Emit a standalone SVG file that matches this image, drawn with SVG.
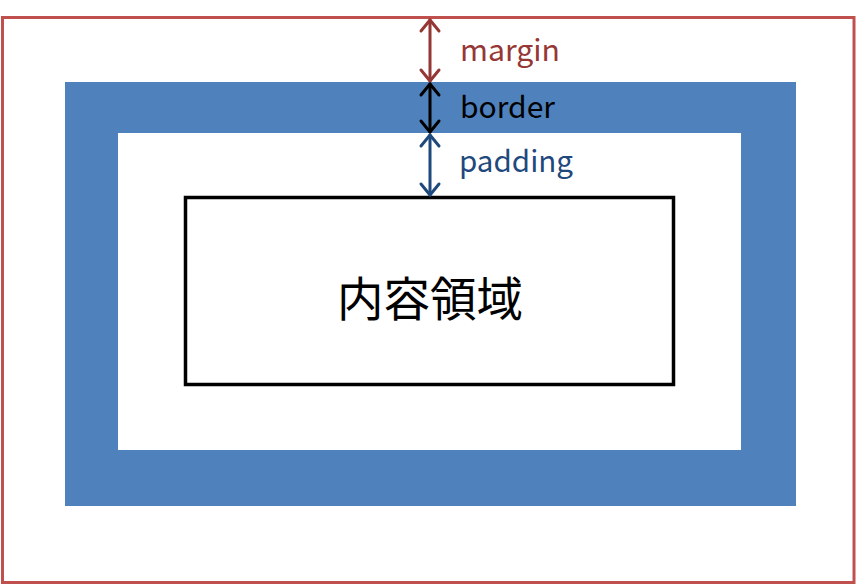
<svg xmlns="http://www.w3.org/2000/svg" width="857" height="585" viewBox="0 0 857 585">
<style>
.lbl{font-family:"Noto Sans CJK JP","Noto Sans",sans-serif;font-size:30px}
.arr{fill:none;stroke-width:3;stroke-linecap:round;stroke-linejoin:round}
</style>
<rect width="857" height="585" fill="#ffffff"/>
<g id="margin-box"><rect x="2.5" y="17.5" width="851.5" height="565" fill="none" stroke="#C0504D" stroke-width="3"/></g>
<g id="border-box"><path d="M65 82H796V506H65Z M118 133V450H741V133Z" fill="#4F81BD" fill-rule="evenodd"/></g>
<g id="content-box">
<rect x="185.5" y="197.5" width="488" height="187" fill="#ffffff" stroke="#000000" stroke-width="3.5"/>
<text x="430" y="295" text-anchor="middle" dominant-baseline="central" font-family="Noto Sans CJK JP,sans-serif" font-size="47" fill="#000000" textLength="186" lengthAdjust="spacingAndGlyphs">内容領域</text>
</g>
<g id="connectors">
<g stroke="#953735" class="arr"><path d="M430 20V81"/><path d="M421 31L430 20L439 31"/><path d="M421 70L430 81L439 70"/></g>
<g stroke="#000000" class="arr"><path d="M430 84V132"/><path d="M421 95L430 84L439 95"/><path d="M421 121L430 132L439 121"/></g>
<g stroke="#1F497D" class="arr"><path d="M430 135V195"/><path d="M421 146L430 135L439 146"/><path d="M421 184L430 195L439 184"/></g>
</g>
<g id="labels">
<text class="lbl" x="460" y="61" fill="#953735" textLength="100" lengthAdjust="spacingAndGlyphs">margin</text>
<text class="lbl" x="460" y="118" fill="#000000" textLength="95" lengthAdjust="spacingAndGlyphs">border</text>
<text class="lbl" x="459" y="172" fill="#1F497D" textLength="114" lengthAdjust="spacingAndGlyphs">padding</text>
</g>
</svg>
